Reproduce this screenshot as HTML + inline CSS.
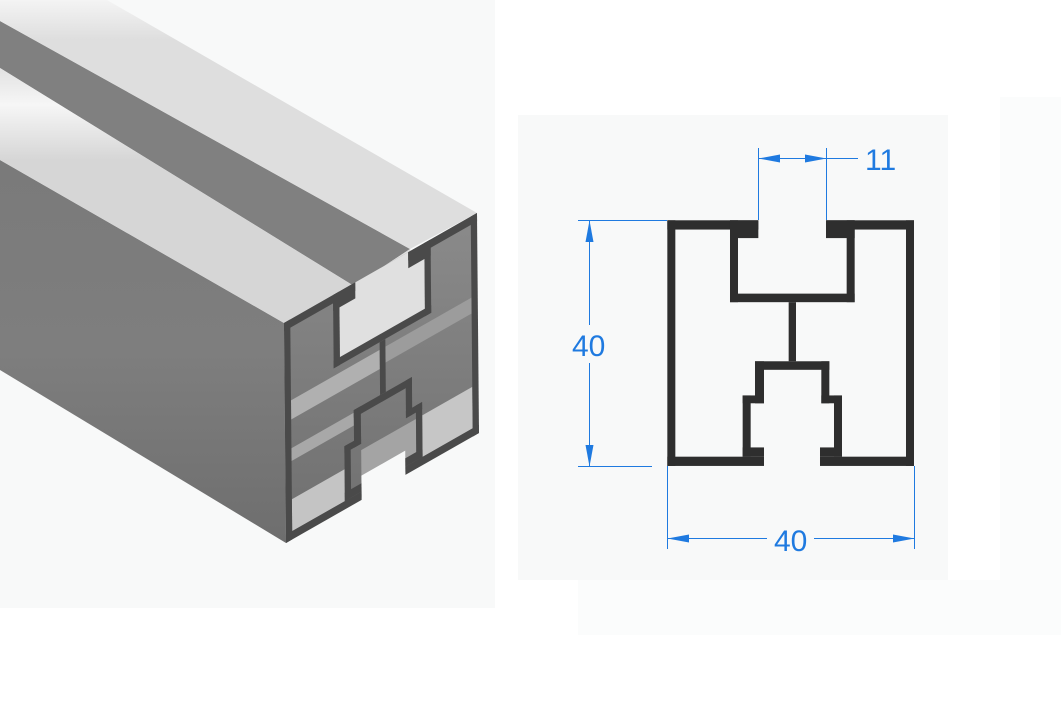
<!DOCTYPE html>
<html><head><meta charset="utf-8"><style>
html,body{margin:0;padding:0;background:#fff;}
svg{display:block;}
</style></head><body>
<svg width="1061" height="723" viewBox="0 0 1061 723" xmlns="http://www.w3.org/2000/svg">
<defs>
<g id="prof">
<rect x="322" y="366" width="273" height="26"/>
<rect x="798" y="366" width="264" height="26"/>
<rect x="322" y="366" width="24" height="690"/>
<rect x="1038" y="366" width="24" height="690"/>
<rect x="322" y="1030" width="290" height="26"/>
<rect x="780" y="1030" width="282" height="26"/>
<rect x="510" y="366" width="85" height="50"/>
<rect x="798" y="366" width="86" height="50"/>
<rect x="510" y="366" width="24" height="230"/>
<rect x="860" y="366" width="24" height="230"/>
<rect x="510" y="572" width="374" height="24"/>
<rect x="686" y="596" width="22" height="166"/>
<rect x="585" y="762" width="223" height="24"/>
<rect x="585" y="762" width="27" height="118"/>
<rect x="548" y="858" width="64" height="22"/>
<rect x="548" y="858" width="24" height="172"/>
<rect x="548" y="1004" width="64" height="26"/>
<rect x="784" y="762" width="24" height="118"/>
<rect x="784" y="858" width="62" height="22"/>
<rect x="822" y="858" width="24" height="172"/>
<rect x="780" y="1004" width="66" height="26"/>
</g>
<linearGradient id="side" gradientUnits="userSpaceOnUse" x1="0" y1="160" x2="0" y2="543">
<stop offset="0" stop-color="#7a7a7a"/><stop offset="0.5" stop-color="#7e7e7e"/><stop offset="1" stop-color="#6e6e6e"/>
</linearGradient>
<linearGradient id="top1" gradientUnits="userSpaceOnUse" x1="0" y1="68" x2="0" y2="160">
<stop offset="0" stop-color="#e2e2e2"/><stop offset="0.4" stop-color="#f6f6f6"/><stop offset="1" stop-color="#d6d6d6"/>
</linearGradient>
<linearGradient id="top2" gradientUnits="userSpaceOnUse" x1="0" y1="0" x2="0" y2="40">
<stop offset="0" stop-color="#f4f4f4"/><stop offset="1" stop-color="#dedede"/>
</linearGradient>
<linearGradient id="cav" gradientUnits="userSpaceOnUse" x1="0" y1="220" x2="0" y2="540">
<stop offset="0" stop-color="#8a8a8a"/><stop offset="1" stop-color="#6f6f6f"/>
</linearGradient>
</defs>

<!-- backgrounds -->
<rect x="0" y="0" width="495" height="608" fill="#f8f9f9"/>
<rect x="518" y="115" width="430" height="465" fill="#f8f9f9"/>
<rect x="578" y="580" width="483" height="55" fill="#fbfcfc"/>
<rect x="1000" y="97" width="61" height="483" fill="#fbfcfc"/>

<!-- 3D render -->
<polygon points="0,160 284,323 286,543 0,370" fill="url(#side)"/>
<polygon points="0,21 410,249 354,286 0,68" fill="#808080"/>
<polygon points="354,286 410,249 427,307 339,356" fill="#dedede"/>
<polygon points="0,68 354,286 284,323 0,160" fill="url(#top1)"/>
<polygon points="107,0 477,213 410,249 0,21 0,0" fill="url(#top2)"/>
<!-- front cavity fill -->
<polygon points="284,323 477,213 475,430 286,543" fill="url(#cav)"/>
<g transform="matrix(0.2608,-0.1486,0.0029,0.3188,198.96,254.17)">
<rect x="346" y="930" width="202" height="100" fill="#c4c4c4"/>
<rect x="346" y="620" width="340" height="60" fill="#b0b0b0"/>
<rect x="346" y="770" width="239" height="40" fill="#a8a8a8"/>
<rect x="846" y="900" width="192" height="130" fill="#c6c6c6"/>
<rect x="708" y="620" width="330" height="50" fill="#9c9c9c"/>
<rect x="612" y="900" width="210" height="104" fill="#a4a4a4"/>
<rect x="534" y="366" width="326" height="206" fill="#e0e0e0"/>
<rect x="612" y="980" width="168" height="76" fill="#f8f9f9"/>
<use href="#prof" fill="#4a4a4a"/>
</g>

<!-- cross-section drawing -->
<g transform="translate(560,90) scale(0.33333,0.356)">
<use href="#prof" fill="#2e2e2e"/>
</g>

<!-- dimensions -->
<g stroke="#1f7ae0" stroke-width="1" fill="none">
<line x1="758.5" y1="148" x2="758.5" y2="220"/>
<line x1="826.5" y1="148" x2="826.5" y2="220"/>
<line x1="758" y1="158.5" x2="858" y2="158.5"/>
<line x1="578" y1="220.5" x2="667" y2="220.5"/>
<line x1="578" y1="466.5" x2="652" y2="466.5"/>
<line x1="589.5" y1="220" x2="589.5" y2="325"/>
<line x1="589.5" y1="363" x2="589.5" y2="466"/>
<line x1="667.5" y1="466" x2="667.5" y2="549"/>
<line x1="914.5" y1="466" x2="914.5" y2="549"/>
<line x1="667" y1="538.5" x2="767" y2="538.5"/>
<line x1="814" y1="538.5" x2="914" y2="538.5"/>
</g>
<g fill="#1f7ae0">
<polygon points="758.5,158.5 780,154.5 780,162.5"/>
<polygon points="826.5,158.5 805,154.5 805,162.5"/>
<polygon points="589.5,220.5 585.5,242 593.5,242"/>
<polygon points="589.5,466.5 585.5,445 593.5,445"/>
<polygon points="667.5,538.5 689,534.5 689,542.5"/>
<polygon points="914.5,538.5 893,534.5 893,542.5"/>
</g>
<g font-family="Liberation Sans, sans-serif" font-size="30" fill="#1f7ae0">
<text x="865" y="170">11</text>
<text x="572" y="356">40</text>
<text x="774" y="551">40</text>
</g>
</svg>
</body></html>
